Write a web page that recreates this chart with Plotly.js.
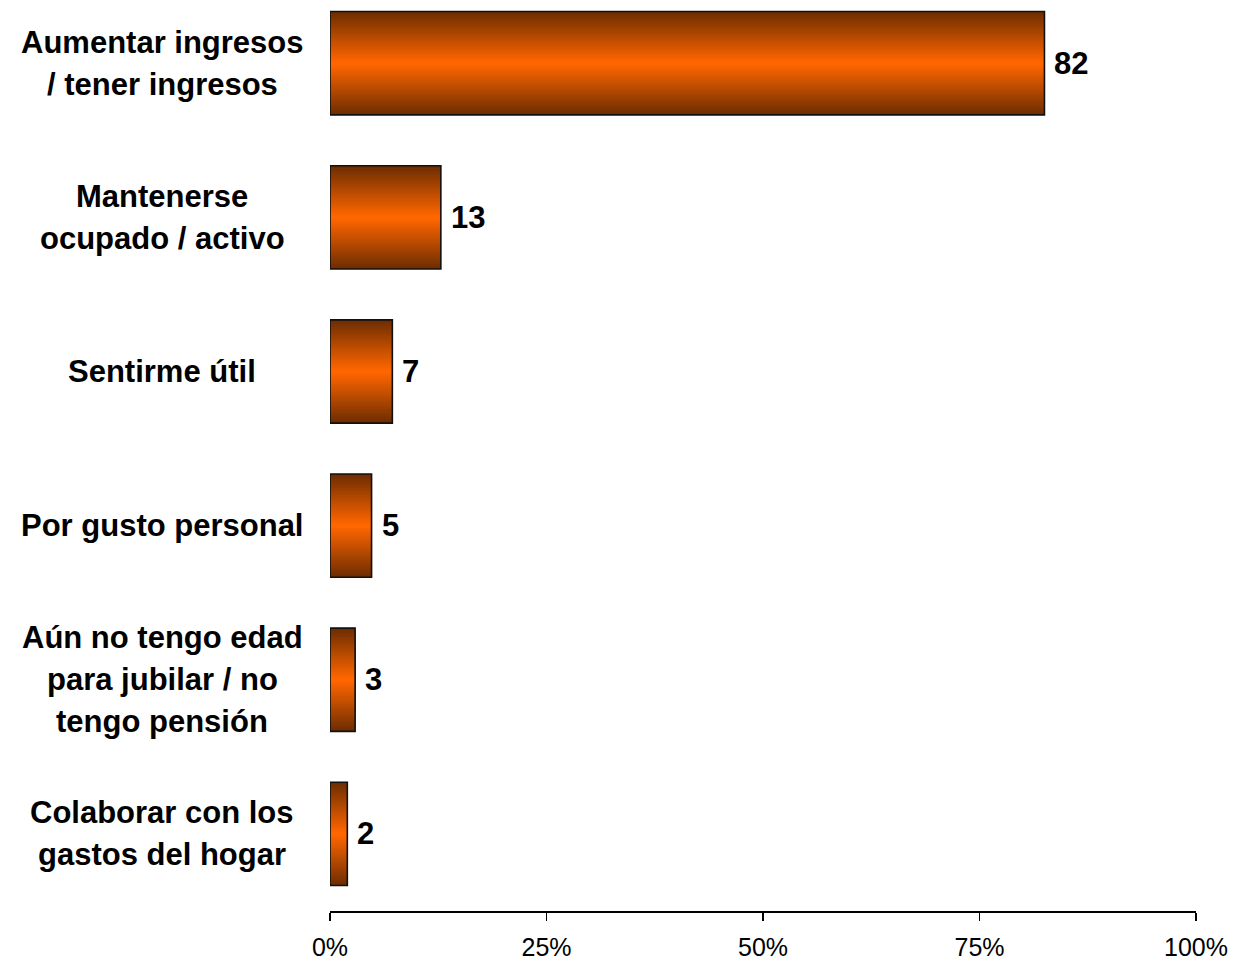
<!DOCTYPE html>
<html><head><meta charset="utf-8">
<script src="https://cdn.plot.ly/plotly-3.0.1.min.js"></script>
<style>html,body{margin:0;padding:0;background:#fff;}#chart{width:1234px;height:962px;}</style>
</head><body><div id="chart"></div>
<script>
const categories = [
  "Aumentar ingresos<br>/ tener ingresos",
  "Mantenerse<br>ocupado / activo",
  "Sentirme útil",
  "Por gusto personal",
  "Aún no tengo edad<br>para jubilar / no<br>tengo pensión",
  "Colaborar con los<br>gastos del hogar"
];
const values = [82.5, 12.8, 7.2, 4.8, 2.9, 2.0];
const valueLabels = ["82", "13", "7", "5", "3", "2"];
const xTickVals = [0, 25, 50, 75, 100];
const xTickText = ["0%", "25%", "50%", "75%", "100%"];

const FONT = "Liberation Sans, Arial, sans-serif";
const BAR_W = 0.67;
const N = 22;
const dark = [112, 46, 0], bright = [255, 102, 0];
const traces = [];
for (let k = 0; k < N; k++) {
  const t = k / (N - 1);
  const c = dark.map((d, i) => Math.round(d + (bright[i] - d) * t));
  traces.push({
    type: 'bar', orientation: 'h',
    x: values, y: categories,
    width: BAR_W * (1 - k / N),
    marker: {color: `rgb(${c[0]},${c[1]},${c[2]})`, line: {width: 0}},
    hoverinfo: 'skip', showlegend: false
  });
}
// outline on top
traces.push({
  type: 'bar', orientation: 'h',
  x: values, y: categories, width: BAR_W,
  marker: {color: 'rgba(0,0,0,0)', line: {color: '#111', width: 1.6}},
  hoverinfo: 'skip', showlegend: false
});

const annotations = [];
categories.forEach((cat, i) => {
  const lines = cat.split('<br>');
  const n = lines.length;
  lines.forEach((ln, j) => {
    annotations.push({
      xref: 'paper', yref: 'y', x: 0, y: cat,
      xanchor: 'center', yanchor: 'middle',
      xshift: -168,
      yshift: ((n - 1) / 2 - j) * 42,
      text: ln, showarrow: false,
      font: {family: FONT, size: 31, color: '#000', weight: 'bold'}
    });
  });
  annotations.push({
    xref: 'x', yref: 'y', x: values[i], y: cat,
    xanchor: 'left', yanchor: 'middle', xshift: 8,
    text: valueLabels[i], showarrow: false,
    font: {family: FONT, size: 31, color: '#000', weight: 'bold'}
  });
});

const layout = {
  width: 1234, height: 962,
  margin: {l: 330, r: 38, t: 0, b: 51},
  paper_bgcolor: '#fff', plot_bgcolor: '#fff',
  barmode: 'overlay',
  font: {family: FONT, color: '#000'},
  xaxis: {
    range: [0, 100], tickvals: xTickVals, ticktext: xTickText,
    ticks: 'outside', ticklen: 8, tickwidth: 1.6, tickcolor: '#000',
    ticklabelstandoff: 5,
    showline: true, linecolor: '#000', linewidth: 1.6,
    showgrid: false, zeroline: false, fixedrange: true,
    tickfont: {family: FONT, size: 25, color: '#000'}
  },
  yaxis: {
    type: 'category', categoryorder: 'array', categoryarray: categories,
    range: [5.5, -0.41], showticklabels: false, showgrid: false,
    zeroline: false, showline: false, ticks: '', fixedrange: true
  },
  annotations: annotations
};
Plotly.newPlot('chart', traces, layout, {displayModeBar: false, staticPlot: true});
</script>
</body></html>
